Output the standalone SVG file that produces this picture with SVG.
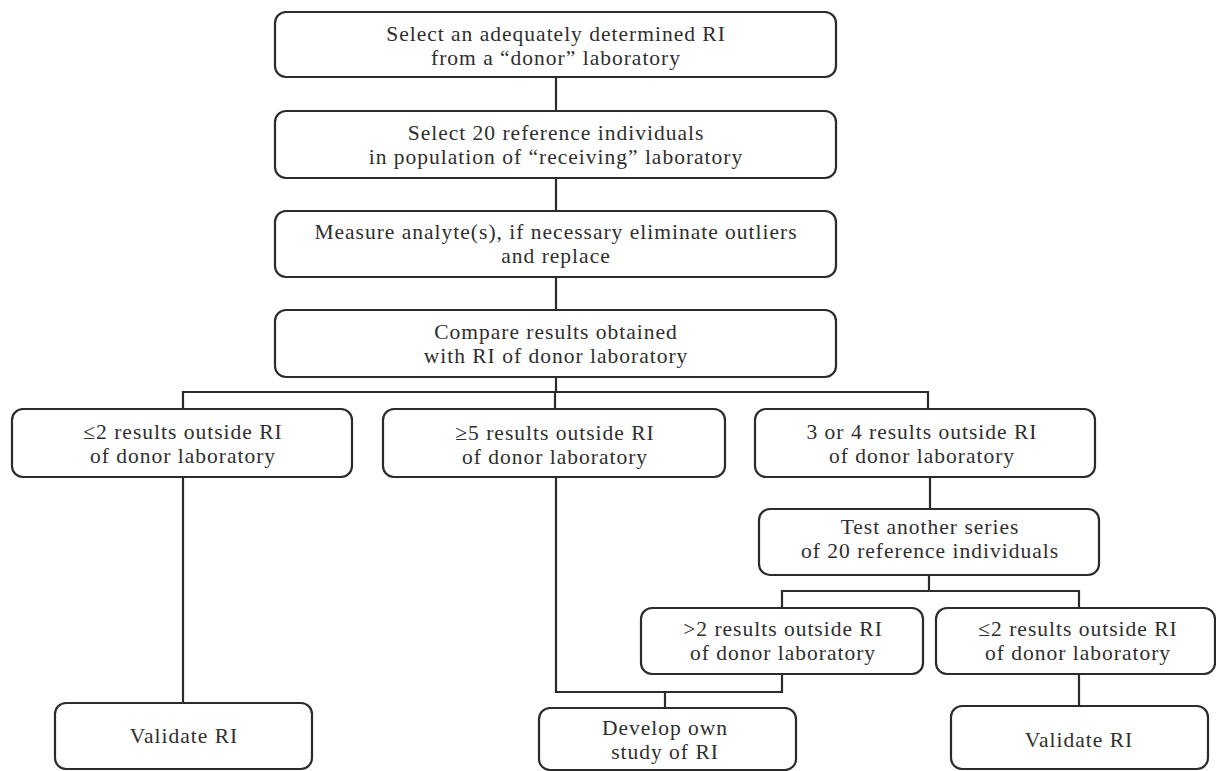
<svg xmlns="http://www.w3.org/2000/svg" width="1216" height="771" viewBox="0 0 1216 771">
<style>
.box{fill:#fff;stroke:#2b2b2b;stroke-width:2.2}
.ln{fill:none;stroke:#2b2b2b;stroke-width:2.2}
text{font-family:"Liberation Serif","Times New Roman",serif;font-size:21.5px;letter-spacing:1px;fill:#2e2e2e;text-anchor:middle}
</style>
<rect width="1216" height="771" fill="#fff"/>
<g id="connectors">
<path class="ln" d="M556 77V111M556 178V211M556 277V310M556 377V392"/>
<path class="ln" d="M183 409V392H928V409M555 392V409"/>
<path class="ln" d="M183 477V703"/>
<path class="ln" d="M556 477V692H782V674M665 692V708"/>
<path class="ln" d="M930 477V509M929 575V591"/>
<path class="ln" d="M782 608V591H1079V608"/>
<path class="ln" d="M1079 674V706"/>
</g>
<g id="n1"><rect class="box" x="275" y="12" width="561" height="65" rx="11"/>
<text x="556" y="41">Select an adequately determined RI</text><text x="556" y="65">from a “donor” laboratory</text></g>
<g id="n2"><rect class="box" x="275" y="111" width="561" height="67" rx="11"/>
<text x="556" y="140">Select 20 reference individuals</text><text x="556" y="164">in population of “receiving” laboratory</text></g>
<g id="n3"><rect class="box" x="275" y="211" width="561" height="66" rx="11"/>
<text x="556" y="239">Measure analyte(s), if necessary eliminate outliers</text><text x="556" y="263">and replace</text></g>
<g id="n4"><rect class="box" x="275" y="310" width="561" height="67" rx="11"/>
<text x="556" y="339">Compare results obtained</text><text x="556" y="363">with RI of donor laboratory</text></g>
<g id="n5"><rect class="box" x="12" y="409" width="340" height="68" rx="11"/>
<text x="183" y="439">≤2 results outside RI</text><text x="183" y="463">of donor laboratory</text></g>
<g id="n6"><rect class="box" x="383" y="409" width="342" height="68" rx="11"/>
<text x="555" y="440">≥5 results outside RI</text><text x="555" y="464">of donor laboratory</text></g>
<g id="n7"><rect class="box" x="755" y="409" width="340" height="68" rx="11"/>
<text x="922" y="439">3 or 4 results outside RI</text><text x="922" y="463">of donor laboratory</text></g>
<g id="n8"><rect class="box" x="759" y="509" width="340" height="66" rx="11"/>
<text x="930" y="534">Test another series</text><text x="930" y="558">of 20 reference individuals</text></g>
<g id="n9"><rect class="box" x="641" y="608" width="282" height="66" rx="11"/>
<text x="783" y="636">&gt;2 results outside RI</text><text x="783" y="660">of donor laboratory</text></g>
<g id="n10"><rect class="box" x="936" y="608" width="279" height="66" rx="11"/>
<text x="1078" y="636">≤2 results outside RI</text><text x="1078" y="660">of donor laboratory</text></g>
<g id="n11"><rect class="box" x="55" y="703" width="257" height="66" rx="11"/>
<text x="184" y="743">Validate RI</text></g>
<g id="n12"><rect class="box" x="539" y="708" width="257" height="62" rx="11"/>
<text x="665" y="735">Develop own</text><text x="665" y="759">study of RI</text></g>
<g id="n13"><rect class="box" x="951" y="706" width="257" height="63" rx="11"/>
<text x="1079" y="747">Validate RI</text></g>
</svg>
